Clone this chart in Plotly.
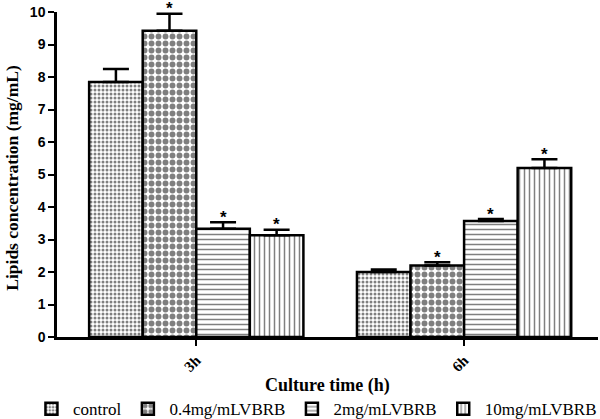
import plotly.graph_objects as go

# culture time groups
times = ["3h", "6h"]
series_names = ["control", "0.4mg/mLVBRB", "2mg/mLVBRB", "10mg/mLVBRB"]

# lipids concentration (mg/mL), mean and SE
means = [
    [7.85, 2.00],
    [9.42, 2.20],
    [3.33, 3.57],
    [3.13, 5.20],
]
errors = [
    [0.40, 0.08],
    [0.53, 0.10],
    [0.20, 0.06],
    [0.17, 0.27],
]
# significance markers
stars = [
    ["", ""],
    ["*", "*"],
    ["*", "*"],
    ["*", "*"],
]

patterns = [
    dict(shape=".", size=4, solidity=0.45, fgcolor="black", bgcolor="white"),
    dict(shape=".", size=7, solidity=0.55, fgcolor="black", bgcolor="white"),
    dict(shape="-", size=5, solidity=0.3, fgcolor="black", bgcolor="white"),
    dict(shape="|", size=5, solidity=0.3, fgcolor="black", bgcolor="white"),
]

serif = "Liberation Serif, Times New Roman, serif"
sans = "Liberation Sans, Arial, sans-serif"

x_idx = list(range(len(times)))
bar_w = 0.2  # (1 - bargap) / number of series

fig = go.Figure()
for i, name in enumerate(series_names):
    fig.add_trace(
        go.Bar(
            x=x_idx,
            y=means[i],
            name=name,
            marker=dict(color="white", pattern=patterns[i], line=dict(color="black", width=2.5)),
            error_y=dict(
                type="data",
                symmetric=False,
                array=errors[i],
                arrayminus=[0] * len(times),
                color="black",
                thickness=2.5,
                width=13,
            ),
        )
    )

# stars above error bars
star_notes = []
for i in range(len(series_names)):
    for k in x_idx:
        if stars[i][k]:
            star_notes.append(
                dict(
                    text=stars[i][k],
                    x=k + (i - 1.5) * bar_w,
                    y=means[i][k] + errors[i][k],
                    xref="x",
                    yref="y",
                    yanchor="middle",
                    yshift=5,
                    showarrow=False,
                    font=dict(family=sans, size=17, color="black", weight="bold"),
                )
            )

fig.update_layout(
    width=600,
    height=419,
    margin=dict(l=57, r=2, t=12, b=82, autoexpand=False),
    barmode="group",
    bargap=0.2,
    bargroupgap=0,
    plot_bgcolor="white",
    paper_bgcolor="white",
    showlegend=True,
    legend=dict(
        orientation="h",
        x=-0.05,
        xanchor="left",
        y=-0.222,
        yanchor="middle",
        font=dict(family=serif, size=17, color="black"),
        itemwidth=33,
        tracegroupgap=0,
    ),
    xaxis=dict(
        range=[-0.52, 1.5],
        tickvals=x_idx,
        ticktext=times,
        tickangle=-45,
        tickfont=dict(family=serif, size=15, color="black", weight="bold"),
        ticks="outside",
        ticklen=6,
        tickwidth=2,
        tickcolor="black",
        showline=True,
        linecolor="black",
        linewidth=2.5,
        showgrid=False,
        zeroline=False,
    ),
    yaxis=dict(
        range=[0, 10],
        dtick=1,
        tickfont=dict(family=sans, size=14, color="black", weight="bold"),
        ticks="outside",
        ticklen=6,
        tickwidth=2,
        tickcolor="black",
        showline=True,
        linecolor="black",
        linewidth=2.5,
        showgrid=False,
        zeroline=False,
    ),
    annotations=star_notes + [
        dict(
            text="Culture time (h)",
            xref="paper",
            yref="paper",
            x=0.5,
            y=-0.148,
            yanchor="middle",
            showarrow=False,
            font=dict(family=serif, size=18, color="black", weight="bold"),
        ),
        dict(
            text="Lipids concentration (mg/mL)",
            xref="paper",
            yref="paper",
            x=0,
            xshift=-45,
            xanchor="center",
            y=0.49,
            textangle=-90,
            showarrow=False,
            font=dict(family=serif, size=17.5, color="black", weight="bold"),
        ),
    ],
)

# drop the browser's default body margin so the 600x419 figure fills the window
fig.write_html(
    "out.html",
    config={"displayModeBar": False},
    post_script="document.body.style.margin = '0';",
)
